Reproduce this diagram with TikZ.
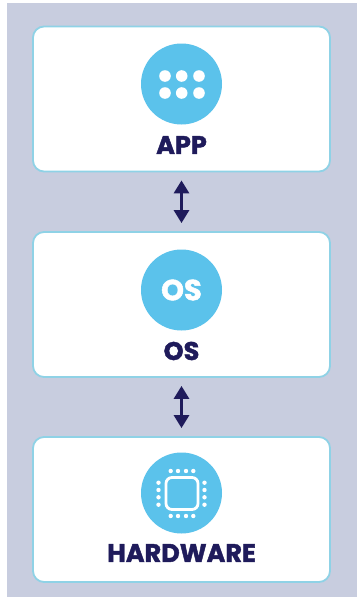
\documentclass[tikz,border=0pt]{standalone}
\usepackage{fontspec}
\setmainfont{Poppins}
\newfontfamily\heavyface[FakeBold=1.6]{Poppins Bold}
\usetikzlibrary{arrows.meta}
\definecolor{bgc}{HTML}{C8CDDF}
\definecolor{sky}{HTML}{5BC2EB}
\definecolor{navy}{HTML}{1F1B5B}
\definecolor{edgec}{HTML}{8FD2E6}
\tikzset{
  x=1pt,y=-1pt,
  card/.style={draw=edgec,line width=1.8pt,fill=white,rounded corners=11pt,minimum width=297pt,minimum height=145pt,inner sep=0pt},
  disc/.style={circle,fill=sky,minimum size=81pt,inner sep=0pt},
  lab/.style={text=navy,font=\heavyface\fontsize{25.5}{27}\selectfont,inner sep=0pt},
  link/.style={navy,line width=3pt,{Triangle[width=15pt,length=13pt]}-{Triangle[width=15pt,length=13pt]},shorten <=8pt,shorten >=8pt},
  wdot/.style={fill=white,draw=none},
}
\begin{document}
\begin{tikzpicture}
\useasboundingbox (0,0) rectangle (357,597);
\fill[white] (0,0) rectangle (357,597);
\fill[bgc] (7,3) rectangle (357,597);
\node[card] (appbox) at (181.5,99) {};
\node[card] (osbox) at (181.5,304.5) {};
\node[card] (hwbox) at (181.5,509.5) {};
\node[disc] (appdisc) at (181.5,84) {};
\node[disc] (osdisc) at (181.5,290) {};
\node[disc] (hwdisc) at (181.5,493) {};
\node[lab] (applabel) at (181.5,145) {APP};
\node[lab] (oslabel) at (181.5,351) {OS};
\node[lab] (hwlabel) at (181.5,553) {HARDWARE};
\node[text=white,font=\heavyface\fontsize{29}{31}\selectfont,inner sep=0pt] (ostext) at (181.5,290) {OS};
\foreach \px in {165,181.7,199}
  \foreach \py in {76,93}
    \fill[wdot] (\px,\py) circle[radius=5.8];
\node[draw=white,line width=2.8pt,rounded corners=6pt,minimum size=32pt,inner sep=0pt] (chip) at (182,493.5) {};
\foreach \pa in {170.7,178,186,193.3} {
  \fill[wdot] (\pa,471) circle[radius=2.2];
  \fill[wdot] (\pa,516) circle[radius=2.2];
}
\foreach \pb in {482.7,490,497.3,504.7} {
  \fill[wdot] (158.5,\pb) circle[radius=2.2];
  \fill[wdot] (204.5,\pb) circle[radius=2.2];
}
\draw[link] (appbox.south) -- (osbox.north);
\draw[link] (osbox.south) -- (hwbox.north);
\end{tikzpicture}
\end{document}
